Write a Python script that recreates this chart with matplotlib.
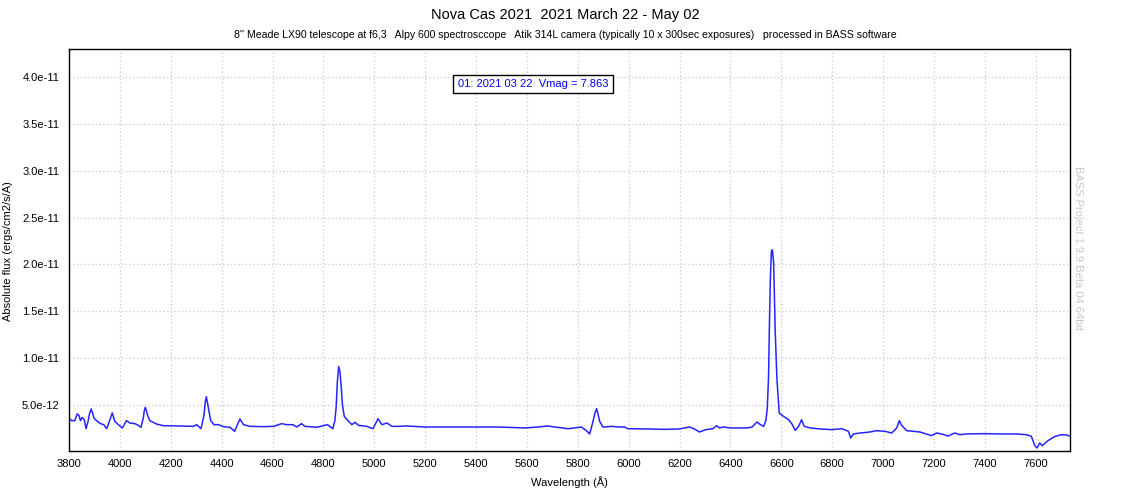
import matplotlib
matplotlib.use("Agg")
import matplotlib.pyplot as plt
from matplotlib.ticker import MultipleLocator, FuncFormatter

plt.rcParams['font.family'] = ['Liberation Sans', 'DejaVu Sans']

# Wavelength (Angstrom) and flux (units of 1e-12 erg/cm2/s/A)
wavelength = [
    3800, 3810, 3823, 3832, 3839, 3845, 3852, 3860, 3867, 3875, 3881, 3887,
    3892, 3898, 3911, 3924, 3937, 3948, 3961, 3970, 3980, 3997, 4010, 4026,
    4039, 4059, 4072, 4083, 4092, 4096, 4100, 4104, 4108, 4118, 4144, 4171,
    4236, 4289, 4302, 4319, 4331, 4336, 4340, 4344, 4348, 4357, 4370, 4387,
    4407, 4433, 4451, 4462, 4472, 4486, 4512, 4564, 4604, 4636, 4656, 4680,
    4696, 4714, 4728, 4774, 4816, 4837, 4845, 4850, 4855, 4860, 4865, 4870,
    4875, 4882, 4899, 4912, 4925, 4938, 4971, 4995, 5015, 5030, 5050, 5070,
    5095, 5128, 5200, 5357, 5488, 5592, 5644, 5681, 5710, 5762, 5814, 5834,
    5847, 5860, 5868, 5874, 5880, 5886, 5899, 5932, 5965, 5984, 5997, 6076,
    6141, 6200, 6239, 6259, 6278, 6304, 6331, 6346, 6357, 6370, 6402, 6429,
    6465, 6485, 6505, 6518, 6531, 6540, 6545, 6550, 6553, 6557, 6561, 6565,
    6570, 6576, 6583, 6592, 6596, 6609, 6629, 6642, 6655, 6668, 6680, 6690,
    6714, 6753, 6799, 6838, 6864, 6873, 6884, 6910, 6949, 6975, 7008, 7034,
    7054, 7064, 7073, 7093, 7145, 7169, 7191, 7211, 7230, 7256, 7282, 7302,
    7328, 7393, 7459, 7524, 7563, 7583, 7596, 7605, 7616, 7626, 7648, 7674,
    7700, 7720, 7735,
]
flux = [
    3.61, 3.33, 3.33, 4.04, 3.90, 3.33, 3.68, 3.43, 2.47, 3.26, 4.10, 4.57,
    4.20, 3.61, 3.26, 3.01, 2.90, 2.47, 3.43, 4.15, 3.26, 2.83, 2.55, 3.33,
    3.08, 3.01, 2.83, 2.62, 3.61, 4.40, 4.75, 4.40, 3.97, 3.33, 2.97, 2.79,
    2.76, 2.72, 2.90, 2.47, 3.97, 5.40, 5.89, 5.30, 4.68, 3.33, 2.90, 2.90,
    2.69, 2.62, 2.19, 2.90, 3.51, 2.90, 2.72, 2.69, 2.72, 3.01, 2.90, 2.90,
    2.65, 3.01, 2.72, 2.62, 2.90, 2.47, 3.30, 4.68, 7.50, 9.10, 8.60, 7.00,
    5.00, 3.79, 3.26, 2.90, 3.15, 2.83, 2.72, 2.47, 3.54, 2.90, 3.08, 2.72,
    2.72, 2.76, 2.65, 2.65, 2.65, 2.55, 2.65, 2.76, 2.65, 2.47, 2.65, 2.26,
    1.91, 3.26, 4.20, 4.61, 4.00, 3.26, 2.65, 2.72, 2.65, 2.65, 2.47, 2.44,
    2.40, 2.44, 2.65, 2.44, 2.12, 2.37, 2.47, 2.79, 2.55, 2.65, 2.55, 2.55,
    2.55, 2.65, 3.19, 2.90, 2.72, 3.40, 4.68, 8.05, 13.0, 18.4, 21.3, 21.57,
    20.2, 13.0, 7.70, 4.15, 4.04, 3.79, 3.43, 2.97, 2.30, 2.72, 3.43, 2.72,
    2.55, 2.44, 2.37, 2.47, 2.19, 1.48, 1.91, 2.01, 2.12, 2.26, 2.19, 2.01,
    2.55, 3.33, 2.83, 2.26, 2.12, 1.91, 1.73, 2.01, 1.91, 1.69, 2.01, 1.83,
    1.91, 1.94, 1.91, 1.91, 1.83, 1.66, 0.70, 0.41, 0.94, 0.66, 1.19, 1.62,
    1.83, 1.80, 1.69,
]
flux_si = [f * 1e-12 for f in flux]

title = "Nova Cas 2021  2021 March 22 - May 02"
subtitle = ("8'' Meade LX90 telescope at f6,3   Alpy 600 spectrosccope   "
            "Atik 314L camera (typically 10 x 300sec exposures)   processed in BASS software")
legend_text = "01: 2021 03 22  Vmag = 7.863"
side_text = "BASS Project 1.9.9 Beta 04 64bit"

fig = plt.figure(figsize=(11.26, 5.0), dpi=100)
ax = fig.add_axes([69 / 1126, 49 / 500, 1001 / 1126, 402 / 500])

ax.plot(wavelength, flux_si, color='#2424ff', lw=1.1)

ax.set_xlim(3800, 7735)
ax.set_ylim(0.9e-13, 4.30e-11)
ax.xaxis.set_major_locator(MultipleLocator(200))
ax.set_yticks([5e-12 * i for i in range(1, 9)])
ax.yaxis.set_major_formatter(FuncFormatter(lambda v, p: f"{v:.1e}".replace("e-0", "e-")))
ax.tick_params(axis='both', length=0, labelsize=8, pad=6)
ax.tick_params(axis='y', pad=7)
ax.grid(True, color='#c8c8c8', linestyle=(0, (1, 2)), lw=0.9)
for s in ax.spines.values():
    s.set_color('black')
    s.set_linewidth(1.0)

ax.set_xlabel("Wavelength (Å)", fontsize=8, labelpad=5)
fig.text(8 / 1126, 0.5 - 1 / 500, "Absolute flux (ergs/cm2/s/A)", rotation=90,
         ha='center', va='center', fontsize=8)

fig.text(565 / 1126, 1 - 15 / 500, title, ha='center', va='center', fontsize=10.5)
fig.text(565 / 1126, 1 - 35 / 500, subtitle, ha='center', va='center', fontsize=7.6)

ax.text(0.4635, 0.913, legend_text, transform=ax.transAxes, ha='center', va='center',
        fontsize=8, color='#0000ff',
        bbox=dict(boxstyle='square,pad=0.4', fc='white', ec='black', lw=1.0))

fig.text(1078 / 1126, 1 - 248 / 500, side_text, rotation=-90, ha='center', va='center',
         fontsize=8, color='#c8c8c8')

fig.savefig("out.png", dpi=100)
